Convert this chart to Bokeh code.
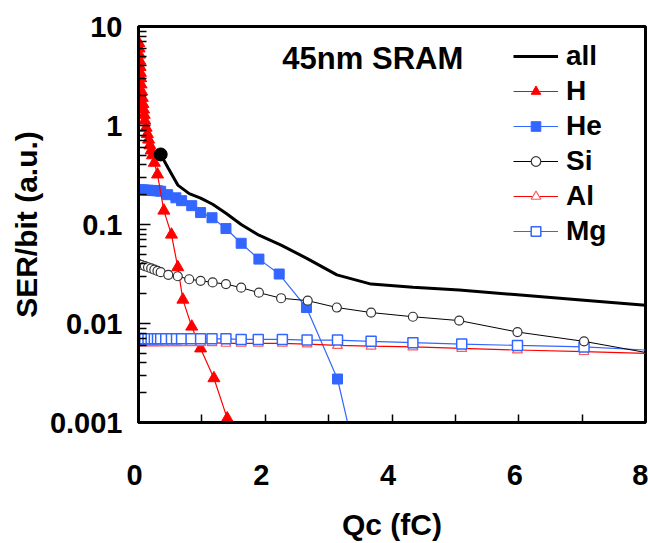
from bokeh.plotting import figure
from bokeh.models import (FixedTicker, CustomJSTickFormatter, Legend, LegendItem,
                          Label, Range1d)
from bokeh.embed import file_html
from bokeh.resources import INLINE

# ---------------- data ----------------
H_x = [0.005, 0.01, 0.015, 0.02, 0.025, 0.03, 0.035, 0.04, 0.05, 0.06, 0.07, 0.08, 0.09, 0.10,
       0.12, 0.14, 0.16, 0.18, 0.20, 0.22, 0.25, 0.30, 0.40, 0.52, 0.62, 0.70, 0.84, 0.98,
       1.19, 1.40, 1.62]
H_y = [6.8, 6.0, 5.2, 4.5, 3.9, 3.4, 3.0, 2.6, 2.2, 1.9, 1.65, 1.45, 1.28, 1.12,
       0.95, 0.82, 0.72, 0.63, 0.56, 0.50, 0.42, 0.32, 0.138, 0.079, 0.037, 0.0174, 0.0093, 0.0056,
       0.0028, 0.0011, 0.00042]

He_x = [0.0, 0.05, 0.1, 0.15, 0.2, 0.25, 0.3, 0.35, 0.46, 0.59, 0.68, 0.84, 0.98, 1.16,
        1.38, 1.62, 1.90, 2.22, 2.65, 3.14, 3.38]
He_y = [0.224, 0.224, 0.223, 0.222, 0.221, 0.220, 0.219, 0.217, 0.200, 0.186, 0.174, 0.155,
        0.132, 0.117, 0.091, 0.0646, 0.0447, 0.0316, 0.0145, 0.00275, 0.0006]

Si_x = [0.0, 0.05, 0.1, 0.15, 0.2, 0.25, 0.3, 0.35, 0.47, 0.62, 0.8, 0.98, 1.17, 1.38, 1.62,
        1.9, 2.25, 2.67, 3.13, 3.67, 4.33, 5.06, 5.98, 7.03, 8.0]
Si_y = [0.040, 0.039, 0.038, 0.037, 0.036, 0.035, 0.034, 0.033, 0.031, 0.030, 0.028, 0.027,
        0.026, 0.025, 0.023, 0.0205, 0.018, 0.017, 0.0145, 0.0129, 0.0117, 0.0107, 0.0082,
        0.0066, 0.0051]

Mg_x = [0.0, 0.05, 0.1, 0.15, 0.2, 0.25, 0.3, 0.35, 0.43, 0.52, 0.6, 0.68, 0.83, 0.98, 1.16,
        1.38, 1.62, 1.89, 2.27, 2.66, 3.14, 3.67, 4.33, 5.1, 5.98, 7.03, 8.0]
Mg_y = [0.0070, 0.0070, 0.0070, 0.0070, 0.0070, 0.0070, 0.0070, 0.0070, 0.0070, 0.0070,
        0.0070, 0.0070, 0.0070, 0.0070, 0.0070, 0.0070, 0.0069, 0.0069, 0.0069, 0.0068,
        0.0068, 0.0066, 0.0064, 0.0062, 0.0060, 0.0058, 0.0054]

Al_x = Mg_x
Al_y = [0.0064, 0.0064, 0.0064, 0.0064, 0.0064, 0.0064, 0.0064, 0.0064, 0.0064, 0.0064,
        0.0064, 0.0064, 0.0064, 0.0064, 0.0064, 0.0063, 0.0063, 0.0063, 0.0063, 0.0062,
        0.0060, 0.0059, 0.0058, 0.0056, 0.0054, 0.0052, 0.0050]

All_x = [0.35, 0.47, 0.62, 0.8, 0.98, 1.17, 1.38, 1.62, 1.9, 2.25, 2.67, 3.13, 3.67, 4.33,
         5.06, 5.98, 7.03, 8.0]
All_y = [0.51, 0.37, 0.25, 0.205, 0.185, 0.16, 0.13, 0.10, 0.078, 0.062, 0.045, 0.031, 0.025,
         0.0232, 0.0218, 0.0195, 0.0172, 0.0153]

x_ticks = [0, 2, 4, 6, 8]
x_tick_labels = ["0", "2", "4", "6", "8"]
x_minor_ticks = [1, 3, 5, 7]
y_ticks = [0.001, 0.01, 0.1, 1, 10]
y_tick_labels = ["0.001", "0.01", "0.1", "1", "10"]

series_names = ["all", "H", "He", "Si", "Al", "Mg"]
title_text = "45nm SRAM"
x_title = "Qc (fC)"
y_title = "SER/bit (a.u.)"

# ---------------- styling ----------------
FONT = "Liberation Sans"
RED = "#FF0000"
BLUE = "#3366FF"

p = figure(width=648, height=543, y_axis_type="log", output_backend="svg",
           toolbar_location=None, x_range=Range1d(0, 8), y_range=Range1d(0.001, 10),
           min_border_left=138, min_border_right=3, min_border_top=26, min_border_bottom=116)
p.background_fill_color = "white"
p.border_fill_color = "white"
p.grid.visible = False
p.outline_line_color = "black"
p.outline_line_width = 3

p.xaxis.ticker = FixedTicker(ticks=x_ticks, minor_ticks=x_minor_ticks)
# labels sit slightly left of their ticks in the reference: pad with a narrow space
p.xaxis.formatter = CustomJSTickFormatter(
    args=dict(tvals=x_ticks, tlabels=x_tick_labels),
    code="""
    for (let i = 0; i < tvals.length; i++) {
        if (Math.abs(tvals[i] - tick) < 1e-9) {
            return i < tvals.length - 1 ? tlabels[i] + '\\u2008' : tlabels[i];
        }
    }
    return '';
    """)
p.xaxis.axis_label = x_title
p.yaxis.axis_label = y_title

minor_y = [m * t for t in y_ticks[:-1] for m in range(2, 10)]
p.yaxis.ticker = FixedTicker(ticks=y_ticks, minor_ticks=minor_y)
p.yaxis.formatter = CustomJSTickFormatter(
    args=dict(tvals=y_ticks, tlabels=y_tick_labels),
    code="""
    for (let i = 0; i < tvals.length; i++) {
        if (Math.abs(Math.log10(tvals[i]) - Math.log10(tick)) < 1e-6) return tlabels[i];
    }
    return '';
    """)

for ax in (p.xaxis[0], p.yaxis[0]):
    ax.axis_line_width = 3
    ax.axis_line_color = "black"
    ax.major_tick_out = 0
    ax.minor_tick_out = 0
    ax.major_tick_line_color = "black"
    ax.minor_tick_line_color = "black"
    ax.major_tick_line_width = 1.5
    ax.minor_tick_line_width = 1.5
    ax.major_label_text_font = FONT
    ax.major_label_text_font_style = "bold"
    ax.major_label_text_font_size = "29px"
    ax.major_label_text_color = "black"
    ax.axis_label_text_font = FONT
    ax.axis_label_text_font_style = "bold"
    ax.axis_label_text_font_size = "30px"
    ax.axis_label_text_color = "black"

p.xaxis.major_tick_in = 8
p.xaxis.minor_tick_in = 8
p.xaxis.major_label_standoff = 36
p.xaxis.axis_label_standoff = 14
p.yaxis.major_tick_in = 12
p.yaxis.minor_tick_in = 8
p.yaxis.major_label_standoff = 16
p.yaxis.axis_label_standoff = 4

# ---------------- series ----------------
he_line = p.line(He_x, He_y, line_color=BLUE, line_width=1.2)
he_pts = p.scatter(He_x, He_y, marker="square", size=10, fill_color=BLUE, line_color=BLUE)

h_line = p.line(H_x, H_y, line_color=RED, line_width=1.2)
h_pts = p.scatter(H_x, H_y, marker="triangle", size=12, fill_color=RED, line_color=RED)

al_line = p.line(Al_x, Al_y, line_color=RED, line_width=1.2)
al_pts = p.scatter(Al_x[:-1], Al_y[:-1], marker="triangle", size=10, fill_color="white",
                   line_color="#FF5A5A", line_width=1.2)

mg_line = p.line(Mg_x, Mg_y, line_color=BLUE, line_width=1.2)
mg_pts = p.scatter(Mg_x[:-1], Mg_y[:-1], marker="square", size=10, fill_color="white",
                   line_color=BLUE, line_width=1.5)

si_line = p.line(Si_x, Si_y, line_color="black", line_width=1)
si_pts = p.scatter(Si_x[:-1], Si_y[:-1], marker="circle", size=9, fill_color="white",
                   line_color="#333333", line_width=1.2)

all_line = p.line(All_x, All_y, line_color="black", line_width=3)
all_dot = p.scatter(All_x[:1], All_y[:1], marker="circle", size=13, fill_color="black",
                    line_color="black")

# ---------------- legend ----------------
items = [
    LegendItem(label=series_names[0], renderers=[all_line]),
    LegendItem(label=series_names[1], renderers=[h_line, h_pts]),
    LegendItem(label=series_names[2], renderers=[he_line, he_pts]),
    LegendItem(label=series_names[3], renderers=[si_line, si_pts]),
    LegendItem(label=series_names[4], renderers=[al_line, al_pts]),
    LegendItem(label=series_names[5], renderers=[mg_line, mg_pts]),
]
legend = Legend(items=items, location=(375, 175), padding=0, margin=0,
                border_line_color=None, background_fill_alpha=0,
                glyph_width=45, glyph_height=24, label_height=24, spacing=3,
                label_standoff=8, label_text_font=FONT, label_text_font_style="bold",
                label_text_font_size="28px", label_text_color="black")
p.add_layout(legend)

p.add_layout(Label(x=2.27, y=4.8, text=title_text, text_font=FONT, text_font_style="bold",
                   text_font_size="31px", text_baseline="middle", text_align="left",
                   text_color="black"))

open("out.html", "w").write(file_html(p, INLINE))
